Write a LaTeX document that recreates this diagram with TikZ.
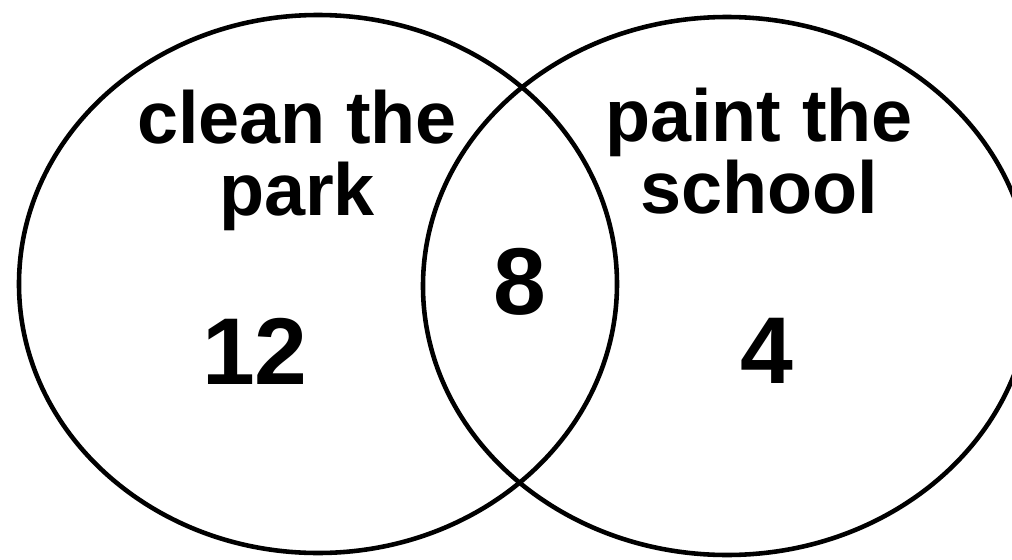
\documentclass[tikz,border=0pt]{standalone}
\usepackage{fontspec}
\setmainfont{Liberation Sans}
\usetikzlibrary{positioning,shapes.geometric}

\begin{document}
\begin{tikzpicture}[
          venn/.style={draw, ellipse, line width=1.3pt, inner sep=0pt},
          lbl/.style={align=center, inner sep=0pt, font=\fontsize{21}{20.5}\selectfont\bfseries},
          num/.style={inner sep=0pt, font=\fontsize{27}{30}\selectfont\bfseries}
      ]
        \useasboundingbox (0,0) rectangle (10.12,5.59);
        \node[venn, minimum width=5.98cm, minimum height=5.38cm] (park) at (3.18,2.75) {};
        \node[venn, minimum width=6.08cm, minimum height=5.38cm] (school) at (7.27,2.73) {};
        \node[lbl] (parklbl) at (2.97,3.99) {clean the\\park};
        \node[lbl] (schoollbl) at (7.59,4.08) {paint the\\school};
        \node[num] (only park) at (2.55,2.08) {12};
        \node[num] (both) at (5.20,2.77) {8};
        \node[num] (only school) at (7.67,2.08) {4};
      \end{tikzpicture}
\end{document}
